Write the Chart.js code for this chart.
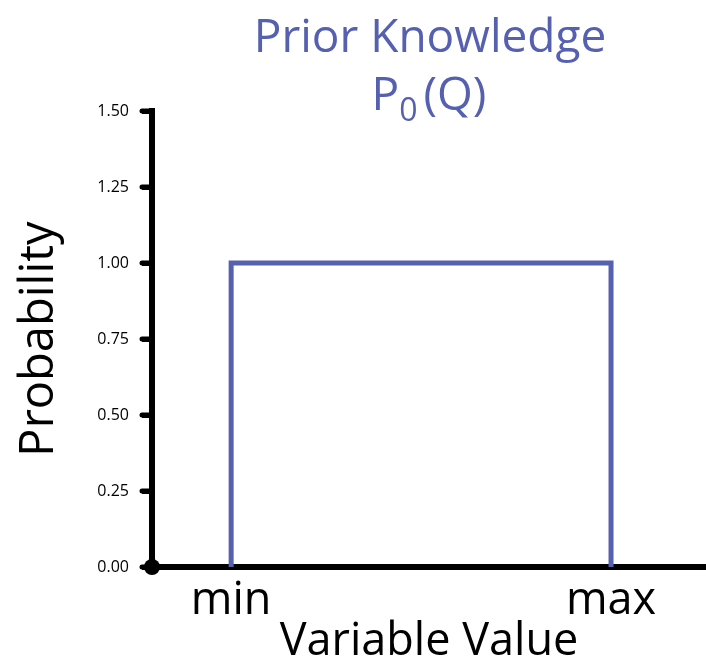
<!DOCTYPE html>
<html>
<head>
<meta charset="utf-8">
<script src="https://cdn.jsdelivr.net/npm/chart.js@4"></script>
<style>
  html, body { margin: 0; padding: 0; background: #fff; }
  #wrap { width: 706px; height: 665px; }
</style>
</head>
<body>
<div id="wrap"><canvas id="c" width="706" height="665"></canvas></div>
<script>
// ---- data ----
const xLabels = ['min', 'max'];
const xPositions = [1, 5.8];
const stepX = [1, 1, 5.8, 5.8];
const stepY = [0, 1, 1, 0];
const yTicks = [0, 0.25, 0.5, 0.75, 1.0, 1.25, 1.5];
const titleLine1 = 'Prior Knowledge';
const titleMain = 'P';
const titleSub = '0';
const titleRest = '(Q)';
const xTitle = 'Variable Value';
const yTitle = 'Probability';

const BLUE = '#5660b0';
const FONT = '"Open Sans", "Noto Sans", sans-serif';

const titlePlugin = {
  id: 'customTitle',
  afterDraw(chart) {
    const ctx = chart.ctx;
    const ca = chart.chartArea;
    const cx = (ca.left + ca.right) / 2;
    ctx.save();
    ctx.fillStyle = BLUE;
    ctx.textBaseline = 'alphabetic';
    ctx.font = '500 46px ' + FONT;
    ctx.textAlign = 'center';
    ctx.fillText(titleLine1, cx + 1, 52);
    // second line with subscript
    ctx.textAlign = 'left';
    const wP = ctx.measureText(titleMain).width;
    const wR = ctx.measureText(titleRest).width;
    ctx.font = '500 32px ' + FONT;
    const wS = ctx.measureText(titleSub).width;
    const gap = 6;
    const total = wP + wS + gap + wR;
    let x = cx - total / 2;
    ctx.font = '500 46px ' + FONT;
    ctx.fillText(titleMain, x, 110);
    x += wP;
    ctx.font = '500 32px ' + FONT;
    ctx.fillText(titleSub, x, 121);
    x += wS + gap;
    ctx.font = '500 46px ' + FONT;
    ctx.fillText(titleRest, x, 110);
    ctx.restore();
  }
};

const originPlugin = {
  id: 'origin',
  afterDraw(chart) {
    const ctx = chart.ctx;
    const ys = chart.scales.y;
    const ox = chart.chartArea.left;
    const oy = ys.getPixelForValue(0);
    ctx.save();
    ctx.fillStyle = '#000';
    ctx.beginPath();
    ctx.arc(ox, oy, 8, 0, Math.PI * 2);
    ctx.fill();
    ctx.strokeStyle = '#000';
    ctx.lineWidth = 5;
    ctx.lineCap = 'round';
    yTicks.forEach(v => {
      const py = ys.getPixelForValue(v);
      ctx.beginPath();
      ctx.moveTo(ox - 10, py);
      ctx.lineTo(ox, py);
      ctx.stroke();
    });
    ctx.restore();
  }
};

new Chart(document.getElementById('c'), {
  type: 'line',
  data: {
    datasets: [{
      data: stepX.map((x, i) => ({ x: x, y: stepY[i] })),
      borderColor: BLUE,
      borderWidth: 5,
      pointRadius: 0,
      tension: 0,
      fill: false,
      borderJoinStyle: 'miter',
      clip: false
    }]
  },
  options: {
    responsive: false,
    animation: false,
    layout: { padding: { top: 111, right: 0, left: 0, bottom: 0 } },
    plugins: { legend: { display: false }, tooltip: { enabled: false }, title: { display: false } },
    scales: {
      x: {
        type: 'linear',
        min: 0,
        max: 7,
        afterBuildTicks(scale) { scale.ticks = xPositions.map(v => ({ value: v })); },
        afterFit(scale) { scale.height = 98; },
        ticks: {
          autoSkip: false,
          maxRotation: 0,
          minRotation: 0,
          padding: 7,
          color: '#000',
          font: { family: FONT, size: 45, weight: '500' },
          callback(value) {
            const i = xPositions.indexOf(value);
            return i >= 0 ? xLabels[i] : '';
          }
        },
        grid: { display: true, drawOnChartArea: false, drawTicks: false },
        border: { display: true, color: '#000', width: 6 },
        title: {
          display: true,
          text: xTitle,
          color: '#000',
          font: { family: FONT, size: 45, weight: '500', lineHeight: 1 },
          padding: { top: 0, bottom: 0 }
        }
      },
      y: {
        min: 0,
        max: 1.5,
        afterBuildTicks(scale) { scale.ticks = yTicks.map(v => ({ value: v })); },
        afterFit(scale) { scale.width = 152; },
        ticks: {
          padding: 13,
          color: '#000',
          font: { family: FONT, size: 16, weight: '500' },
          callback(value) { return Number(value).toFixed(2); }
        },
        grid: { display: true, drawOnChartArea: false, drawTicks: true, tickLength: 10, tickWidth: 5, color: '#000' },
        border: { display: true, color: '#000', width: 6 },
        title: {
          display: true,
          text: yTitle,
          color: '#000',
          font: { family: FONT, size: 47, weight: '500', lineHeight: 1 },
          padding: { top: 16, bottom: 0 }
        }
      }
    }
  },
  plugins: [titlePlugin, originPlugin]
});
</script>
</body>
</html>
